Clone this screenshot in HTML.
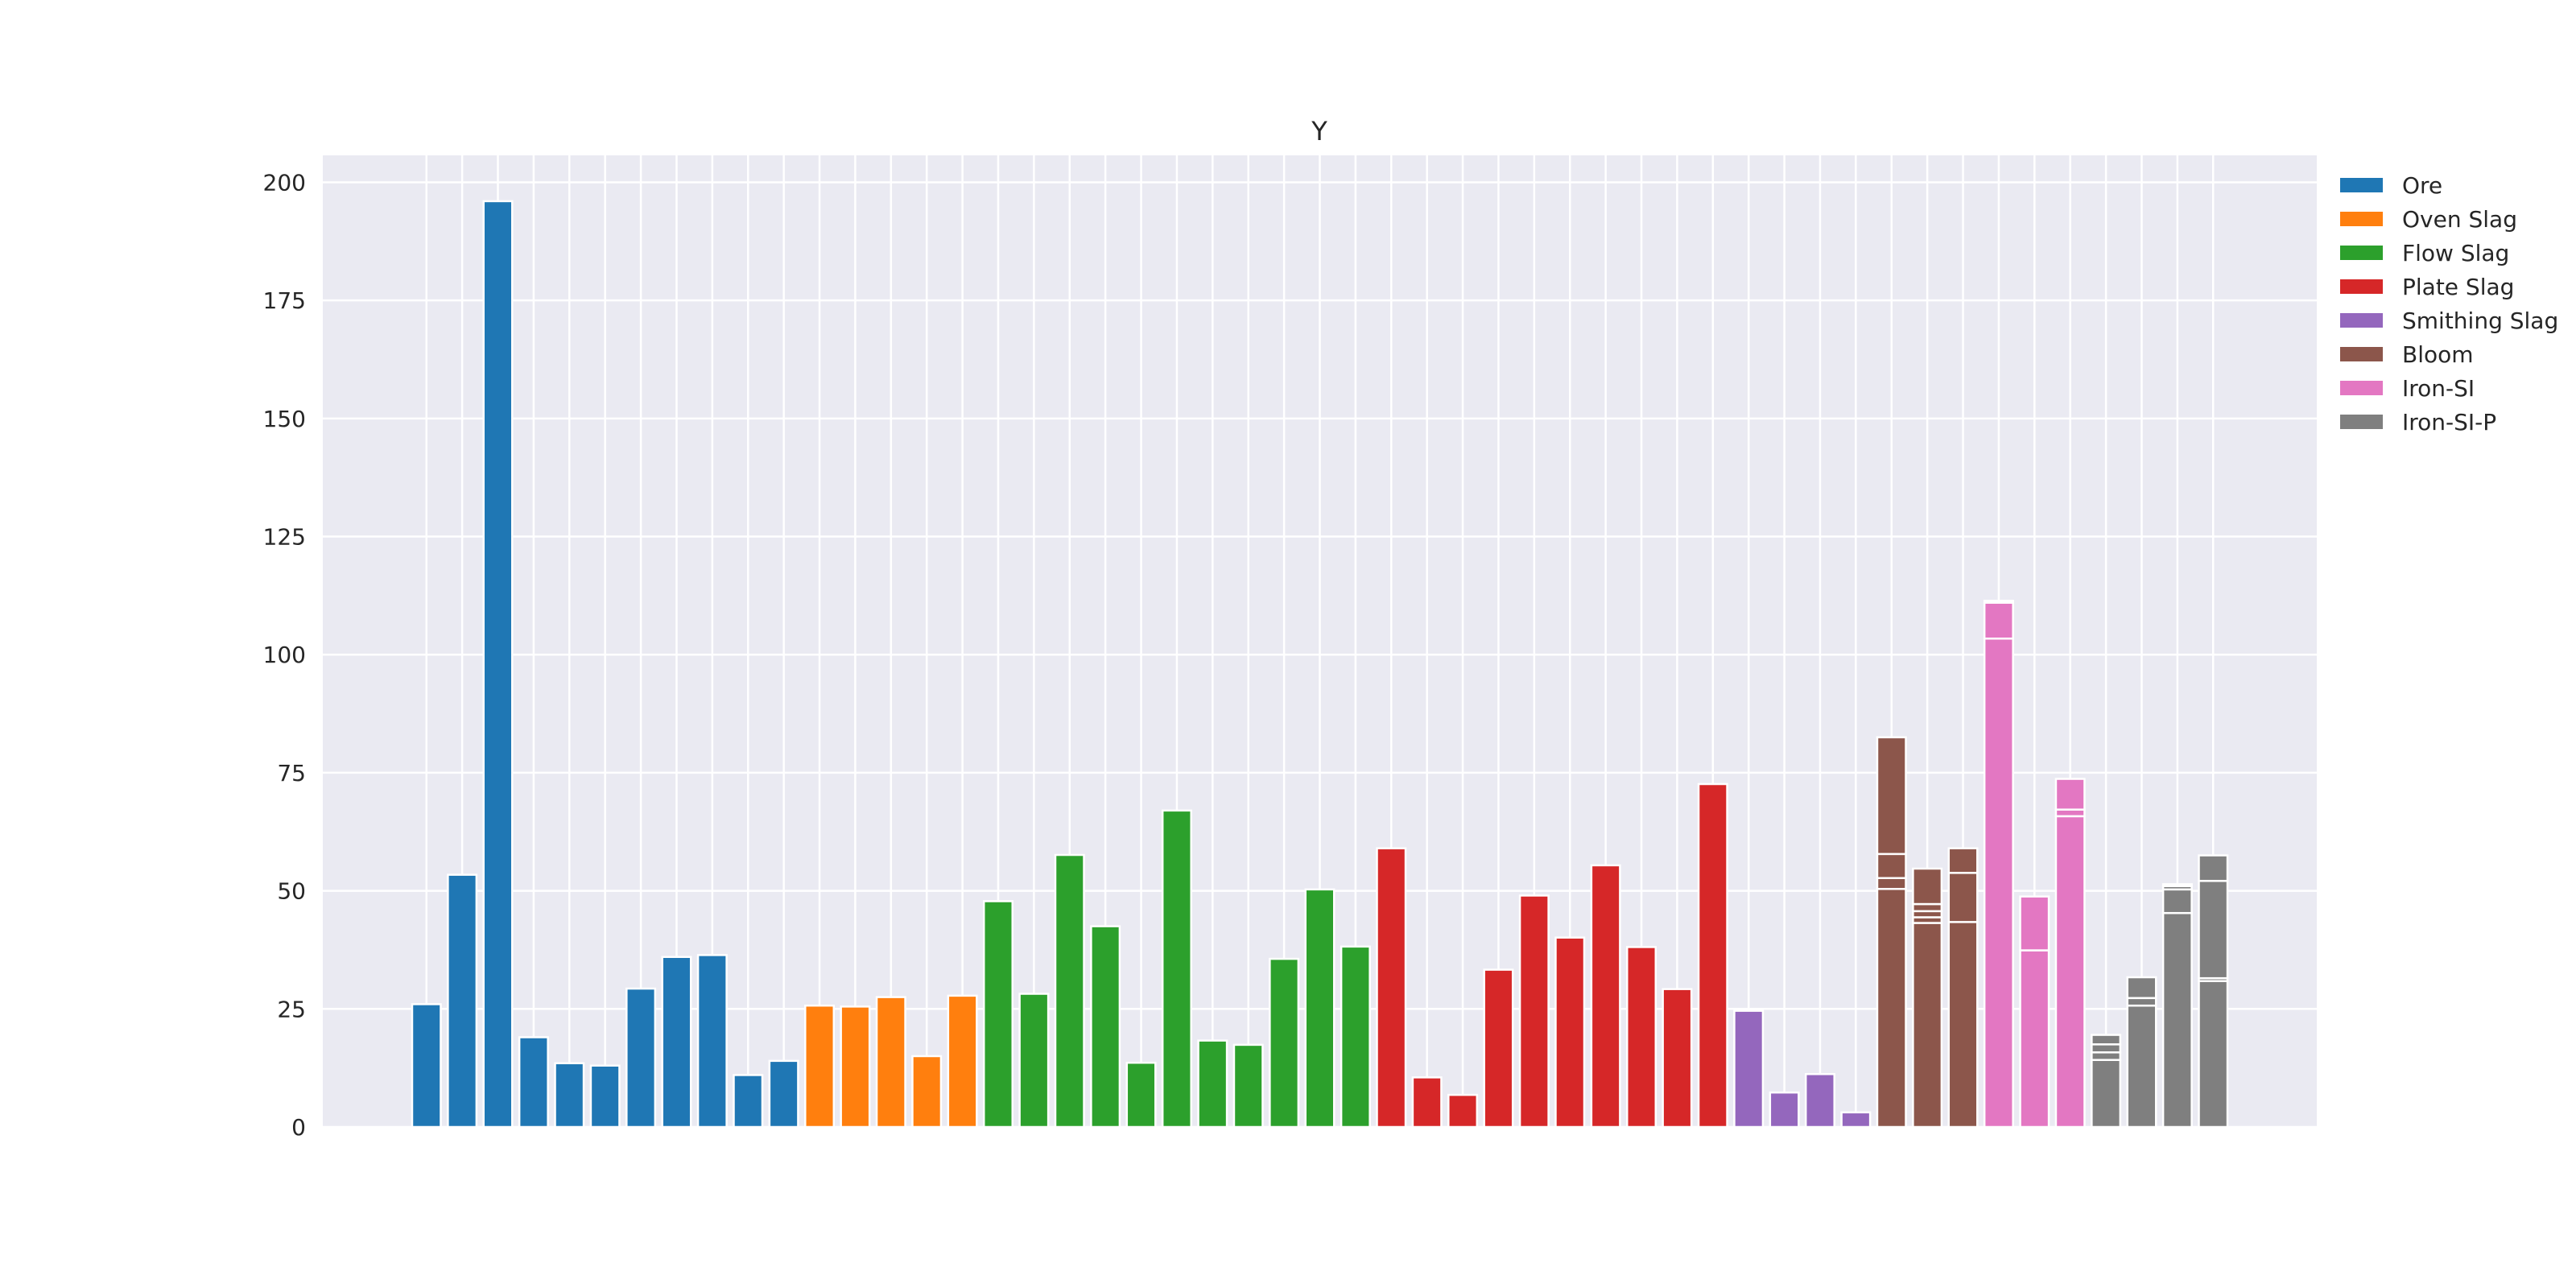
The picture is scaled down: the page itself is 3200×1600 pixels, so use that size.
<!DOCTYPE html>
<html><head><meta charset="utf-8"><style>
html,body{margin:0;padding:0;background:#fff;}
svg{display:block;font-family:"DejaVu Sans","Liberation Sans",sans-serif;}
</style></head><body>
<svg id="chart" width="3200" height="1600" viewBox="0 0 3200 1600">
<rect x="0" y="0" width="3200" height="1600" fill="#fff"/>
<rect x="401" y="193" width="2477" height="1207" fill="#eaeaf2"/>
<g id="grid"></g>
<g id="bars"></g>
<g id="yticks"></g>
<text x="1639" y="174" font-size="32" fill="#262626" text-anchor="middle">Y</text>
<g id="legend"></g>
</svg>
<script>
const groups = ["Ore","Oven Slag","Flow Slag","Plate Slag","Smithing Slag","Bloom","Iron-SI","Iron-SI-P"];
const colors = ["#1f77b4","#ff7f0e","#2ca02c","#d62728","#9467bd","#8c564b","#e377c2","#7f7f7f"];
const oreValues = [[26],[53.4],[196],[19],[13.5],[13],[29.3],[36],[36.4],[11],[14]];
const ovenValues = [[25.7],[25.5],[27.5],[15],[27.8]];
const flowValues = [[47.8],[28.2],[57.6],[42.5],[13.6],[67],[18.3],[17.4],[35.6],[50.3],[38.2]];
const plateValues = [[59],[10.5],[6.8],[33.3],[49],[40.1],[55.4],[38.1],[29.2],[72.6]];
const smithValues = [[24.6],[7.3],[11.2],[3.1]];
const bloomValues = [[50.4,2.3,5.1,24.7],[43.2,1.2,1.3,1.5,7.5],[43.4,10.4,5.2]];
const ironSiValues = [[103.4,7.6,0.4],[37.4,11.4],[65.8,1.4,6.5]];
const ironSiPValues = [[14.2,1.6,1.7,2.0],[25.7,1.6,4.4],[45.3,5.0,0.7,0.4],[30.9,0.6,20.6,5.4]];
const yTicks = [0,25,50,75,100,125,150,175,200];

const seriesList = [oreValues,ovenValues,flowValues,plateValues,smithValues,bloomValues,ironSiValues,ironSiPValues];
const NS = "http://www.w3.org/2000/svg";
const xMin = -2.9, xMax = 52.9, yMin = 0, yMax = 205.7;
const L = 401, R = 2878, T = 193, B = 1400;
function xs(v){ return L + (v - xMin) / (xMax - xMin) * (R - L); }
function ys(v){ return B - (v - yMin) / (yMax - yMin) * (B - T); }
function mk(tag, attrs){ const e = document.createElementNS(NS, tag); for (const k in attrs) e.setAttribute(k, attrs[k]); return e; }

let total = 0; seriesList.forEach(s => total += s.length);
const grid = document.getElementById('grid');
for (let i = 0; i < total; i++) {
  const l = mk('line', {x1: xs(i), x2: xs(i), y1: T, y2: B, stroke: '#fff', 'stroke-width': 2.5});
  
  
  grid.appendChild(l);
}
const yt = document.getElementById('yticks');
yTicks.forEach(t => {
  const l = mk('line', {x1: L, x2: R, y1: ys(t), y2: ys(t), stroke: '#fff', 'stroke-width': 2.5});
  
  
  grid.appendChild(l);
  const tx = mk('text', {x: 380, y: ys(t) + 10, 'font-size': 28, fill: '#262626', 'text-anchor': 'end'});
  tx.textContent = t;
  
  
  yt.appendChild(tx);
});

const barsG = document.getElementById('bars');
let idx = 0;
seriesList.forEach((series, gi) => {
  series.forEach(stack => {
    let base = 0;
    stack.forEach(v => {
      const x0 = xs(idx - 0.4), x1 = xs(idx + 0.4);
      const r = mk('rect', {x: x0, y: ys(base + v), width: x1 - x0, height: ys(base) - ys(base + v), fill: colors[gi], stroke: '#fff', 'stroke-width': 2.5});
      
      
      barsG.appendChild(r);
      base += v;
    });
    idx++;
  });
});

const lg = document.getElementById('legend');
groups.forEach((g, i) => {
  const y = 230 + i * 42;
  const p = mk('rect', {x: 2907, y: y - 9, width: 53, height: 18, fill: colors[i]});
  
  
  lg.appendChild(p);
  const t = mk('text', {x: 2984, y: y + 10, 'font-size': 28, fill: '#262626'});
  t.textContent = g;
  
  
  lg.appendChild(t);
});
</script>
</body></html>
